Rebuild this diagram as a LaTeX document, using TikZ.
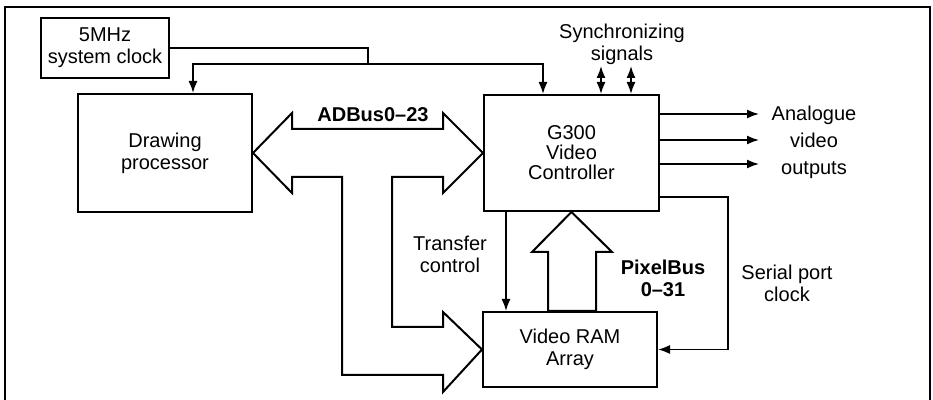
\documentclass[tikz,border=0pt]{standalone}
\usepackage{fontspec}
\setmainfont{Liberation Sans}
\usetikzlibrary{positioning,arrows.meta,calc}

\begin{document}
\begin{tikzpicture}[x=0.5pt,y=-0.5pt,font=\fontsize{10}{11}\selectfont,
      blk/.style={draw,line width=1pt,align=center,inner sep=1pt},
      lbl/.style={align=center,inner sep=1pt},
      bus/.style={draw,line width=1pt,line join=miter,fill=white},
      sig/.style={line width=0.8pt,-{Latex[length=6pt,width=4.5pt]}}]
      \useasboundingbox (0,0) rectangle (933,400);
      % frame
      \draw[line width=1pt] (5,402) |- (930,7) -- (930,402);
      % blocks
      \node[blk,minimum width=64pt,minimum height=30pt] (clk) at (105,48) {5MHz\\system clock};
      \node[blk,minimum width=87pt,minimum height=59pt] (dp) at (165,153) {Drawing\\processor};
      \node[blk,minimum width=87.5pt,minimum height=58pt,font=\fontsize{10}{10}\selectfont] (vc) at (571.5,153) {G300\\Video\\Controller};
      \node[blk,minimum width=87pt,minimum height=37.5pt] (vram) at (570,349.5) {Video RAM\\Array};
      % buses
      \draw[bus] (dp.east) -- (292,113) -- (292,129) -- (443,129) -- (443,113) -- (vc.west)
        -- (443,193) -- (443,177) -- (392,177) -- (392,327) -- (443,327) -- (443,312) -- (vram.west)
        -- (443,392) -- (443,375) -- (342,375) -- (342,177) -- (292,177) -- (292,193) -- cycle;
      \draw[bus] (vc.south) -- (612,252) -- (596,252) -- (596,252 |- vram.north) -- (548,252 |- vram.north)
        -- (548,252) -- (532,252) -- cycle;
      \node[lbl,font=\fontsize{10}{11}\selectfont\bfseries] (adb) at (373,115) {ADBus0\textendash23};
      \node[lbl,font=\fontsize{10}{11}\selectfont\bfseries] (pxb) at (663,278) {PixelBus\\0\textendash31};
      % clock
      \coordinate (jn) at (368,64);
      \draw[line width=0.8pt] (clk.east) -| (jn);
      \draw[sig] (jn) -| ([xshift=14pt]dp.north);
      \draw[sig] (jn) -| ([xshift=-14.25pt]vc.north);
      % sync signals
      \node[lbl] (sync) at (622,44) {Synchronizing\\signals};
      \draw[sig,{Latex[length=6pt,width=4.5pt]}-{Latex[length=6pt,width=4.5pt]}] ([xshift=14.75pt]vc.north) -- ++(0,-28);
      \draw[sig,{Latex[length=6pt,width=4.5pt]}-{Latex[length=6pt,width=4.5pt]}] ([xshift=29.75pt]vc.north) -- ++(0,-28);
      % outputs
      \node[lbl,font=\fontsize{10}{13.5}\selectfont] (out) at (814,142) {Analogue\\video\\outputs};
      \foreach \dy in {19.5,6.5,-5.5}
        \draw[sig] ([yshift=\dy pt]vc.east) -- ++(99,0);
      % transfer control
      \node[lbl] (tc) at (450,254) {Transfer\\control};
      \draw[sig] ([xshift=-32.75pt]vc.south) -- ([xshift=-32.75pt]vc.south |- vram.north);
      % serial port clock
      \node[lbl] (spc) at (787,283) {Serial port\\clock};
      \coordinate (sp) at (728,349.5);
      \draw[sig] ([yshift=-22pt]vc.east) -| (sp) -- (vram.east);
    \end{tikzpicture}
\end{document}
